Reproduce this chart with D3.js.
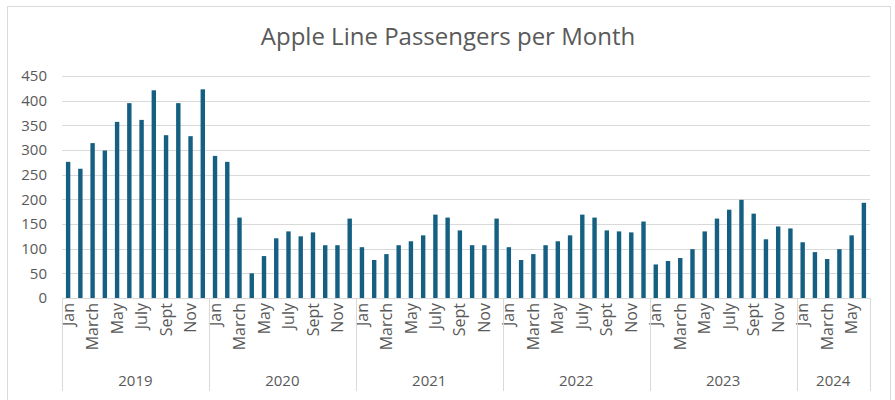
<!DOCTYPE html>
<html>
<head>
<meta charset="utf-8">
<script src="https://cdn.jsdelivr.net/npm/d3@7"></script>
<style>
  body { margin: 0; background: #fff; }
  text { font-family: "Open Sans", "Noto Sans", sans-serif; fill: #595959; }
</style>
</head>
<body>
<div id="chart"></div>
<script>
// chart data
var years = ["2019", "2020", "2021", "2022", "2023", "2024"];
var monthNames = ["Jan", "Feb", "March", "April", "May", "June", "July", "Aug", "Sept", "Oct", "Nov", "Dec"];
var passengers2019 = [276, 262, 314, 299, 357, 395, 361, 421, 330, 395, 328, 423];
var passengers2020 = [288, 276, 163, 50, 85, 121, 135, 125, 133, 107, 107, 161];
var passengers2021 = [103, 77, 89, 107, 115, 127, 169, 163, 137, 107, 107, 161];
var passengers2022 = [103, 77, 89, 107, 115, 127, 169, 163, 137, 135, 133, 155];
var passengers2023 = [68, 75, 81, 99, 135, 161, 179, 199, 171, 119, 145, 141];
var passengers2024 = [113, 93, 79, 99, 127, 193];
var yTicks = [0, 50, 100, 150, 200, 250, 300, 350, 400, 450];

var width = 895;
var height = 400;
var barColor = "#156082";
var gridColor = "#d9d9d9";

var series = [passengers2019, passengers2020, passengers2021, passengers2022, passengers2023, passengers2024];
var data = [];
series.forEach(function (vals, yi) {
    vals.forEach(function (v, mi) {
        data.push({ year: years[yi], month: mi, label: monthNames[mi], value: v, idx: data.length });
    });
});

var svg = d3.select("#chart").append("svg")
    .attr("width", width)
    .attr("height", height);

// outer chart border
svg.append("rect")
    .attr("x", 7.5).attr("y", 6.5)
    .attr("width", 883).attr("height", 400)
    .attr("fill", "none")
    .attr("stroke", gridColor);

svg.append("text")
    .attr("x", 448).attr("y", 45)
    .attr("text-anchor", "middle")
    .style("font-size", "24px")
    .text("Apple Line Passengers per Month");

var xScale = d3.scaleBand()
    .domain(data.map(d => d.idx))
    .range([62, 870])
    .paddingInner(0.64)
    .paddingOuter(0.32);

var yScale = d3.scaleLinear()
    .domain([0, 450])
    .range([298, 76]);

// gridlines
svg.append("g").selectAll("line")
    .data(yTicks)
    .enter().append("line")
    .attr("x1", 62).attr("x2", 870)
    .attr("y1", d => Math.round(yScale(d)) + 0.5)
    .attr("y2", d => Math.round(yScale(d)) + 0.5)
    .attr("stroke", gridColor)
    .attr("stroke-width", 1);

// y tick labels
svg.append("g").selectAll("text")
    .data(yTicks)
    .enter().append("text")
    .attr("x", 47)
    .attr("y", d => yScale(d))
    .attr("dy", "0.35em")
    .attr("text-anchor", "end")
    .style("font-size", "15px")
    .text(d => d);

// bars
svg.append("g").selectAll("rect")
    .data(data)
    .enter().append("rect")
    .attr("x", d => xScale(d.idx))
    .attr("y", d => yScale(d.value))
    .attr("width", xScale.bandwidth())
    .attr("height", d => yScale(0) - yScale(d.value))
    .attr("fill", barColor);

// month labels (every other month)
var step = xScale.step();
svg.append("g").selectAll("text")
    .data(data.filter(d => d.month % 2 === 0))
    .enter().append("text")
    .attr("transform", d => "translate(" + (xScale(d.idx) + xScale.bandwidth() / 2) + ",303) rotate(-90)")
    .attr("dy", "0.35em")
    .attr("text-anchor", "end")
    .style("font-size", "16px")
    .text(d => d.label);

// year group separators and labels
var groups = years.map(function (y) {
    var items = data.filter(d => d.year === y);
    var first = items[0].idx, last = items[items.length - 1].idx;
    var x0 = xScale(first) - step * xScale.paddingInner() / 2;
    var x1 = xScale(last) + xScale.bandwidth() + step * xScale.paddingInner() / 2;
    return { year: y, x0: x0, x1: x1 };
});

var bounds = groups.map(g => g.x0).concat([groups[groups.length - 1].x1]);
svg.append("g").selectAll("line")
    .data(bounds)
    .enter().append("line")
    .attr("x1", d => Math.round(d) + 0.5).attr("x2", d => Math.round(d) + 0.5)
    .attr("y1", 298).attr("y2", 391)
    .attr("stroke", gridColor);

svg.append("g").selectAll("text")
    .data(groups)
    .enter().append("text")
    .attr("x", d => (d.x0 + d.x1) / 2)
    .attr("y", 386)
    .attr("text-anchor", "middle")
    .style("font-size", "15px")
    .text(d => d.year);
</script>
</body>
</html>
